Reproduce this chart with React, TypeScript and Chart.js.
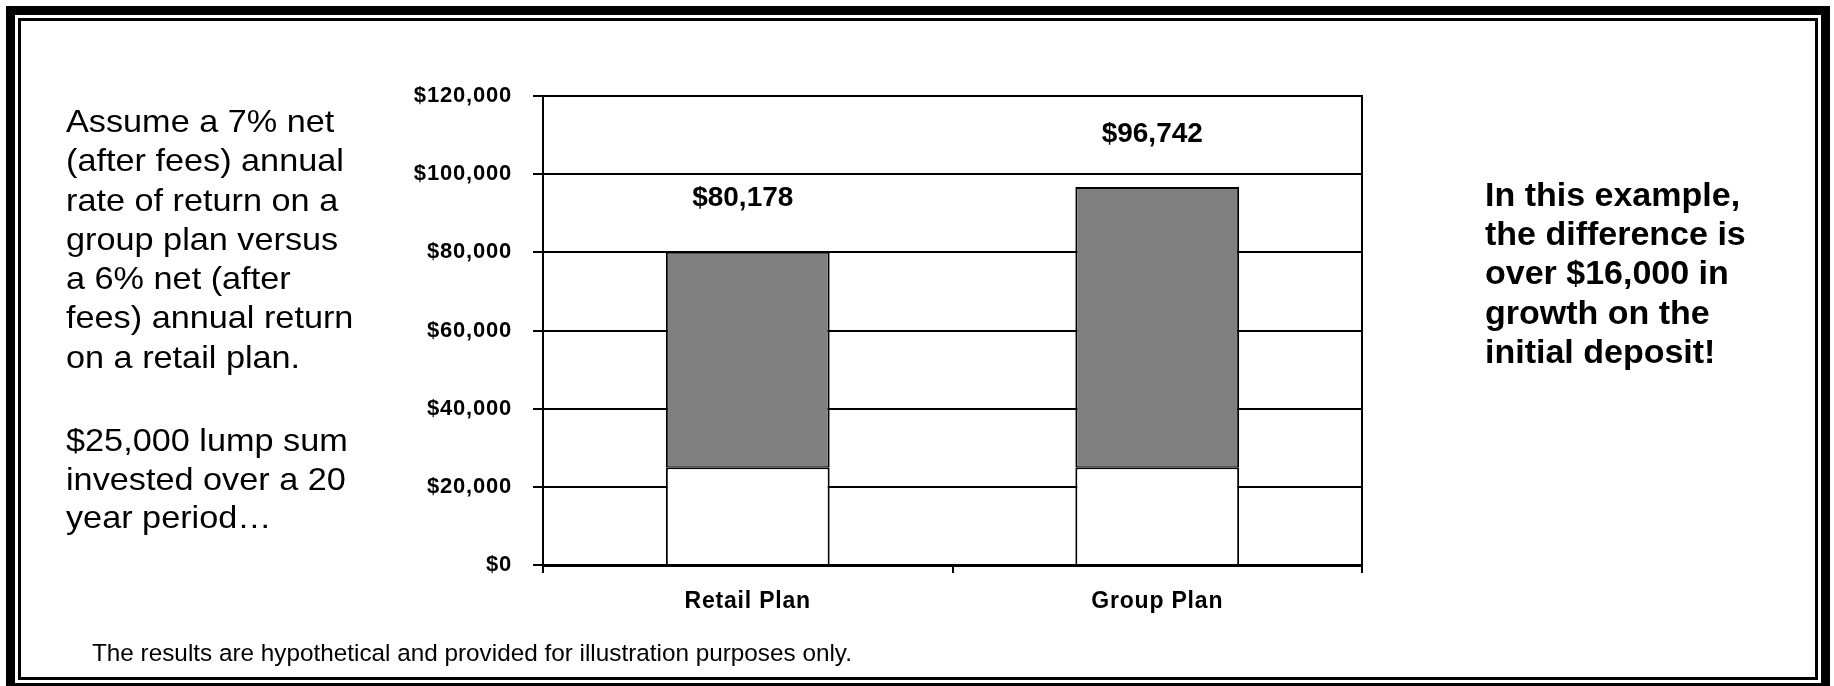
import React, { useEffect, useRef } from "react";
import { Chart, registerables } from "chart.js";

Chart.register(...registerables);

// ---- data ----
const CATEGORIES = ["Retail Plan", "Group Plan"];
const INITIAL_DEPOSIT = [25000, 25000];
const TOTAL_VALUE = [80178, 96742];
const Y_TICKS = [0, 20000, 40000, 60000, 80000, 100000, 120000];

// ---- text ----
const LEFT_NOTE_1 = [
  "Assume a 7% net",
  "(after fees) annual",
  "rate of return on a",
  "group plan versus",
  "a 6% net (after",
  "fees) annual return",
  "on a retail plan.",
];
const LEFT_NOTE_2 = ["$25,000 lump sum", "invested over a 20", "year period\u2026"];
const RIGHT_NOTE = [
  "In this example,",
  "the difference is",
  "over $16,000 in",
  "growth on the",
  "initial deposit!",
];
const FOOTNOTE = "The results are hypothetical and provided for illustration purposes only.";

const FONT = '"Liberation Sans", Arial, Helvetica, sans-serif';
const money = (v: number) => "$" + v.toLocaleString("en-US");

const letterSpacingPlugin = {
  id: "axisLetterSpacing",
  beforeDraw(chart: any) {
    (chart.ctx as any).letterSpacing = "0.8px";
  },
  afterDraw(chart: any) {
    (chart.ctx as any).letterSpacing = "0px";
  },
};

const totalLabelPlugin = {
  id: "totalLabels",
  afterDatasetsDraw(chart: any) {
    const ctx = chart.ctx;
    const lastMeta = chart.getDatasetMeta(chart.data.datasets.length - 1);
    ctx.save();
    (ctx as any).letterSpacing = "0px";
    ctx.fillStyle = "#000";
    ctx.font = `bold 28px ${FONT}`;
    ctx.textAlign = "center";
    ctx.textBaseline = "middle";
    lastMeta.data.forEach((el: any, i: number) => {
      const total = TOTAL_VALUE[i];
      const yTop = chart.scales.y.getPixelForValue(total);
      ctx.fillText(money(total), el.x - 5, yTop - 53);
    });
    ctx.restore();
  },
};

const rightBorderPlugin = {
  id: "rightBorder",
  afterDatasetsDraw(chart: any) {
    const { ctx, chartArea } = chart;
    ctx.save();
    ctx.strokeStyle = "#000";
    ctx.lineWidth = 2;
    ctx.beginPath();
    ctx.moveTo(chartArea.right, chartArea.top - 1);
    ctx.lineTo(chartArea.right, chartArea.bottom);
    ctx.stroke();
    ctx.restore();
  },
};

function BarChart() {
  const ref = useRef<HTMLCanvasElement | null>(null);
  useEffect(() => {
    if (!ref.current) return;
    const growth = TOTAL_VALUE.map((t, i) => t - INITIAL_DEPOSIT[i]);
    const chart = new Chart(ref.current, {
      type: "bar",
      data: {
        labels: CATEGORIES,
        datasets: [
          {
            label: "Initial deposit",
            data: INITIAL_DEPOSIT,
            backgroundColor: "#ffffff",
            borderColor: "#000000",
            borderWidth: { top: 2, left: 2, right: 2, bottom: 0 },
            borderSkipped: false,
            barPercentage: 0.4,
            categoryPercentage: 1,
          },
          {
            label: "Growth",
            data: growth,
            backgroundColor: "#808080",
            borderColor: "#000000",
            borderWidth: { top: 2, left: 2, right: 2, bottom: 1 },
            borderSkipped: false,
            barPercentage: 0.4,
            categoryPercentage: 1,
          },
        ],
      },
      options: {
        responsive: false,
        animation: false,
        layout: { padding: { left: 413, right: 472, top: 96, bottom: 60 } },
        plugins: { legend: { display: false }, tooltip: { enabled: false } },
        scales: {
          x: {
            stacked: true,
            grid: {
              display: true,
              drawOnChartArea: false,
              drawTicks: true,
              tickLength: 8,
              color: "#000",
              lineWidth: 2,
              offset: true,
            },
            border: { display: true, color: "#000", width: 3 },
            ticks: {
              color: "#000",
              font: { family: FONT, size: 23, weight: "bold" },
              padding: 15,
            },
            afterFit: (s: any) => {
              s.height = 61;
              s.paddingLeft = 0;
              s.paddingRight = 0;
            },
          },
          y: {
            stacked: true,
            min: 0,
            max: 120000,
            afterBuildTicks: (s: any) => {
              s.ticks = Y_TICKS.map((v) => ({ value: v }));
            },
            grid: { color: "#000", lineWidth: 2, tickLength: 10, drawTicks: true },
            border: { display: true, color: "#000", width: 2 },
            ticks: {
              color: "#000",
              font: { family: FONT, size: 22, weight: "bold" },
              padding: 21,
              callback: (v: any) => money(Number(v)),
            },
            afterFit: (s: any) => {
              s.width = 130;
              s.paddingTop = 0;
              s.paddingBottom = 0;
            },
          },
        },
      } as any,
      plugins: [letterSpacingPlugin, totalLabelPlugin, rightBorderPlugin],
    });
    return () => chart.destroy();
  }, []);
  return (
    <canvas
      ref={ref}
      width={1834}
      height={686}
      style={{ position: "absolute", left: 0, top: 0, display: "block" }}
    />
  );
}

function Lines({ lines }: { lines: string[] }) {
  return (
    <>
      {lines.map((l, i) => (
        <div key={i}>{l}</div>
      ))}
    </>
  );
}

export default function App() {
  return (
    <div
      style={{
        position: "absolute",
        left: 0,
        top: 0,
        width: 1834,
        height: 686,
        overflow: "hidden",
        background: "#fff",
        fontFamily: FONT,
        color: "#000",
      }}
    >
      <BarChart />
      <div
        style={{
          position: "absolute",
          left: 6,
          top: 6,
          width: 1824,
          height: 686,
          border: "9px solid #000",
          boxSizing: "border-box",
        }}
      />
      <div
        style={{
          position: "absolute",
          left: 18,
          top: 18,
          width: 1800,
          height: 662,
          border: "3px solid #000",
          boxSizing: "border-box",
        }}
      />
      <div
        style={{
          position: "absolute",
          left: 66,
          top: 102,
          fontSize: 32,
          lineHeight: "39.3px",
          whiteSpace: "nowrap",
          transform: "scaleX(1.07)",
          transformOrigin: "left top",
        }}
      >
        <Lines lines={LEFT_NOTE_1} />
      </div>
      <div
        style={{
          position: "absolute",
          left: 66,
          top: 421,
          fontSize: 32,
          lineHeight: "38.5px",
          whiteSpace: "nowrap",
          transform: "scaleX(1.07)",
          transformOrigin: "left top",
        }}
      >
        <Lines lines={LEFT_NOTE_2} />
      </div>
      <div
        style={{
          position: "absolute",
          left: 1485,
          top: 175,
          fontSize: 34,
          fontWeight: "bold",
          lineHeight: "39.2px",
          whiteSpace: "nowrap",
        }}
      >
        <Lines lines={RIGHT_NOTE} />
      </div>
      <div
        style={{
          position: "absolute",
          left: 92,
          top: 641,
          fontSize: 24.3,
          lineHeight: "24px",
          whiteSpace: "nowrap",
        }}
      >
        {FOOTNOTE}
      </div>
    </div>
  );
}
